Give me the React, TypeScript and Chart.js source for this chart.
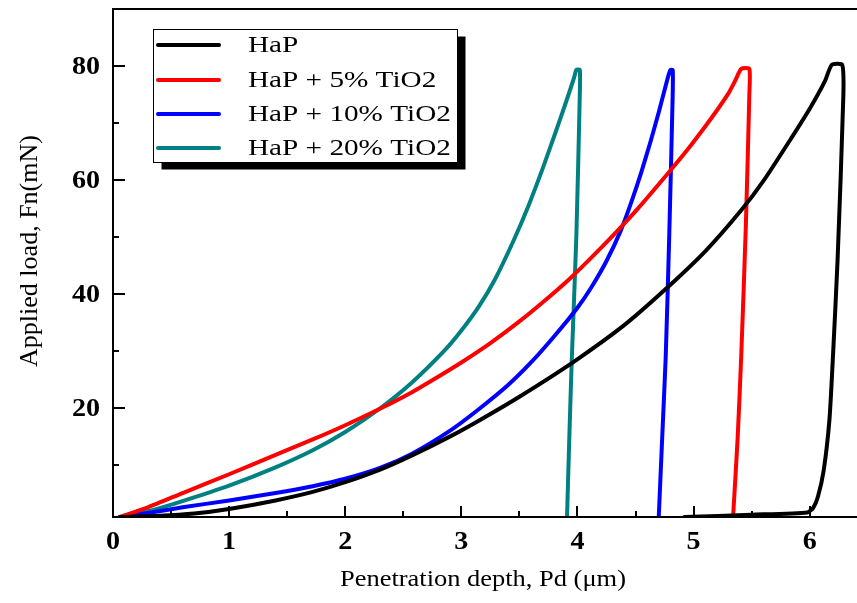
import React, { useEffect, useRef } from "react";
import { Chart, registerables } from "chart.js";

Chart.register(...registerables);

const seriesLabels = ["HaP", "HaP + 5% TiO2", "HaP + 10% TiO2", "HaP + 20% TiO2"];
const seriesColors = ["#000000", "#ff0000", "#0000ff", "#008080"];

const depthHaP = [0.06, 0.4, 0.7, 1.0, 1.4, 1.72, 2.0, 2.3, 2.575, 2.9, 3.15, 3.5, 3.98, 4.4, 4.75, 5.1, 5.41, 5.6, 5.84, 6.0, 6.13, 6.19, 6.28, 6.29, 6.24, 6.2, 6.17, 6.12, 6.07, 6.03, 5.98, 5.5, 4.92];
const loadHaP = [0.9, 1.1, 1.5, 2.3, 3.8, 5.3, 7.0, 9.2, 11.7, 15.0, 17.8, 22.0, 28.3, 34.5, 40.7, 47.5, 54.7, 59.8, 67.3, 72.5, 77.3, 80.2, 80.2, 75, 46, 29, 18, 9, 4.4, 2.5, 1.7, 1.3, 0.9];

const depth5 = [0.06, 0.3, 0.6, 1.0, 1.4, 1.72, 2.0, 2.29, 2.575, 2.8, 3.0, 3.25, 3.5, 3.75, 3.95, 4.1, 4.27, 4.52, 4.78, 4.95, 5.1, 5.2, 5.3, 5.36, 5.41, 5.48, 5.48, 5.45, 5.41, 5.38, 5.34];
const load5 = [0.9, 2.6, 5.1, 8.4, 11.8, 14.5, 17.0, 19.8, 22.8, 25.5, 28.0, 31.4, 35.2, 39.4, 43.0, 46.0, 49.5, 55.0, 61.2, 65.4, 69.4, 72.2, 75.2, 77.5, 79.5, 79.5, 75, 52, 29, 15, 0.9];

const depth10 = [0.06, 0.3, 0.6, 1.0, 1.4, 1.72, 2.0, 2.3, 2.575, 2.9, 3.15, 3.4, 3.6, 3.8, 4.0, 4.12, 4.25, 4.37, 4.46, 4.55, 4.63, 4.7, 4.78, 4.8, 4.82, 4.82, 4.79, 4.76, 4.73, 4.7];
const load10 = [0.9, 1.6, 2.6, 3.8, 5.1, 6.3, 7.6, 9.5, 12.0, 16.0, 19.8, 24.0, 28.0, 32.6, 37.6, 41.2, 45.8, 51.0, 55.9, 61.4, 66.8, 71.9, 78.1, 79.3, 79.3, 75, 50, 29, 15, 0.9];

const depth20 = [0.06, 0.3, 0.6, 1.0, 1.4, 1.72, 2.0, 2.29, 2.575, 2.86, 3.0, 3.15, 3.29, 3.45, 3.58, 3.7, 3.81, 3.9, 3.97, 3.99, 4.02, 4.02, 3.99, 3.95, 3.93, 3.91];
const load20 = [0.9, 1.9, 3.7, 6.4, 9.6, 12.6, 15.8, 19.8, 24.5, 30.2, 33.6, 37.8, 42.6, 49.4, 55.6, 62.0, 68.3, 73.6, 77.9, 79.3, 79.3, 75, 50, 28, 15, 0.9];

const xMajorTicks = [0, 1, 2, 3, 4, 5, 6];
const xMinorTicks = [0.5, 1.5, 2.5, 3.5, 4.5, 5.5];
const yMajorTicks = [20, 40, 60, 80];
const yMinorTicks = [10, 30, 50, 70];

const xTitle = "Penetration depth, Pd (\u03bcm)";
const yTitle = "Applied load, Fn(mN)";

const FONT = '"Liberation Serif", Tinos, "Times New Roman", Times, serif';

function stretchedText(ctx: CanvasRenderingContext2D, text: string, x: number, y: number, sx: number, align: CanvasTextAlign) {
  ctx.save();
  ctx.translate(x, y);
  ctx.scale(sx, 1);
  ctx.textAlign = align;
  ctx.fillText(text, 0, 0);
  ctx.restore();
}

const decorPlugin = {
  id: "decor",
  afterDraw(chart: any) {
    const ctx: CanvasRenderingContext2D = chart.ctx;
    const { left, top, bottom } = chart.chartArea;
    const xs = chart.scales.x;
    const ys = chart.scales.y;
    ctx.save();
    ctx.strokeStyle = "#000";
    ctx.fillStyle = "#000";
    ctx.lineWidth = 2;
    ctx.lineCap = "butt";
    ctx.beginPath();
    ctx.moveTo(left, top);
    ctx.lineTo(chart.width, top);
    ctx.moveTo(left, top - 1);
    ctx.lineTo(left, bottom + 1);
    ctx.moveTo(left, bottom);
    ctx.lineTo(chart.width, bottom);
    ctx.stroke();
    ctx.beginPath();
    xMajorTicks.forEach((v) => {
      const px = Math.round(xs.getPixelForValue(v));
      ctx.moveTo(px, bottom);
      ctx.lineTo(px, bottom - 11);
    });
    xMinorTicks.forEach((v) => {
      const px = Math.round(xs.getPixelForValue(v));
      ctx.moveTo(px, bottom);
      ctx.lineTo(px, bottom - 6);
    });
    yMajorTicks.forEach((v) => {
      const py = Math.round(ys.getPixelForValue(v));
      ctx.moveTo(left, py);
      ctx.lineTo(left + 12, py);
    });
    yMinorTicks.forEach((v) => {
      const py = Math.round(ys.getPixelForValue(v));
      ctx.moveTo(left, py);
      ctx.lineTo(left + 6, py);
    });
    ctx.stroke();
    ctx.font = `bold 26px ${FONT}`;
    ctx.textBaseline = "middle";
    xMajorTicks.forEach((v) => {
      stretchedText(ctx, String(v), xs.getPixelForValue(v), bottom + 25, 1.08, "center");
    });
    yMajorTicks.forEach((v) => {
      stretchedText(ctx, String(v), left - 13, ys.getPixelForValue(v) + 1, 1.08, "right");
    });
    ctx.font = `23px ${FONT}`;
    stretchedText(ctx, xTitle, 483, 580, 1.15, "center");
    ctx.save();
    ctx.translate(30, 251);
    ctx.rotate(-Math.PI / 2);
    ctx.font = `26px ${FONT}`;
    ctx.textAlign = "center";
    ctx.textBaseline = "middle";
    ctx.fillText(yTitle, 0, 0);
    ctx.restore();
    const bx = 153.5, by = 29.5, bw = 304, bh = 133;
    ctx.fillStyle = "#000";
    ctx.fillRect(bx + 8, by + 7, bw, bh);
    ctx.fillStyle = "#fff";
    ctx.fillRect(bx, by, bw, bh);
    ctx.lineWidth = 1;
    ctx.strokeStyle = "#000";
    ctx.strokeRect(bx, by, bw, bh);
    const rows = [45, 80, 114, 148];
    chart.data.datasets.forEach((ds: any, i: number) => {
      const ry = rows[i];
      ctx.strokeStyle = ds.borderColor;
      ctx.lineWidth = 4;
      ctx.lineCap = "round";
      ctx.beginPath();
      ctx.moveTo(158, ry);
      ctx.lineTo(219, ry);
      ctx.stroke();
      ctx.fillStyle = "#000";
      ctx.font = `23px ${FONT}`;
      ctx.textBaseline = "middle";
      stretchedText(ctx, ds.label, 248, ry + 1, 1.27, "left");
    });
    ctx.restore();
  },
};

function toPoints(xs: number[], ys: number[]) {
  return xs.map((x, i) => ({ x, y: ys[i] }));
}

export default function App() {
  const canvasRef = useRef<HTMLCanvasElement | null>(null);
  useEffect(() => {
    const canvas = canvasRef.current;
    if (!canvas) return;
    const depths = [depthHaP, depth5, depth10, depth20];
    const loads = [loadHaP, load5, load10, load20];
    const chart = new Chart(canvas, {
      type: "scatter",
      data: {
        datasets: seriesLabels.map((label, i) => ({
          label,
          data: toPoints(depths[i], loads[i]),
          borderColor: seriesColors[i],
          backgroundColor: seriesColors[i],
          borderWidth: 4,
          showLine: true,
          pointRadius: 0,
          tension: 0.2,
          borderJoinStyle: "round",
          borderCapStyle: "round",
        })),
      },
      options: {
        animation: false,
        responsive: false,
        maintainAspectRatio: false,
        layout: { padding: { left: 113, top: 9, bottom: 86, right: 0 } },
        plugins: { legend: { display: false }, tooltip: { enabled: false } },
        scales: {
          x: { type: "linear", min: 0, max: 6.39, display: false },
          y: { type: "linear", min: 0.9, max: 90, display: false },
        },
      },
      plugins: [decorPlugin],
    } as any);
    let alive = true;
    const fonts: any = (document as any).fonts;
    if (fonts && fonts.load) {
      Promise.all([
        fonts.load('23px "Liberation Serif"'),
        fonts.load('bold 26px "Liberation Serif"'),
      ]).then(() => { if (alive) chart.update(); }).catch(() => {});
    }
    return () => { alive = false; chart.destroy(); };
  }, []);
  return (
    <div style={{ position: "absolute", left: 0, top: 0, width: 857, height: 603, overflow: "hidden", background: "#fff" }}>
      <canvas ref={canvasRef} width={857} height={603} style={{ width: 857, height: 603, display: "block" }} />
    </div>
  );
}
